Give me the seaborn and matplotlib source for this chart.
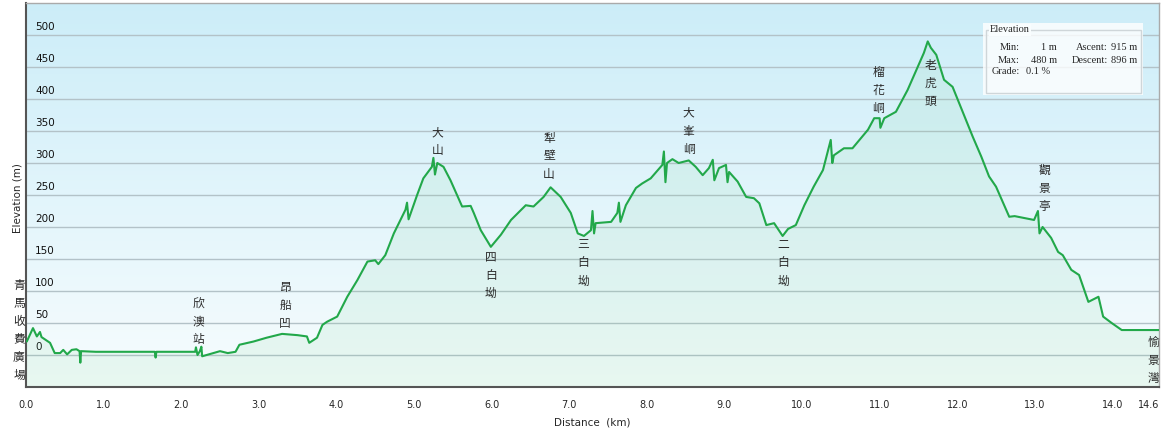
import numpy as np
import pandas as pd
import matplotlib
matplotlib.use("Agg")
import matplotlib.pyplot as plt
import matplotlib.patches as mpatches
import seaborn as sns

# elevation profile (km, m)
dist_km = [0.00, 0.01, 0.09, 0.14, 0.18, 0.20, 0.31, 0.37, 0.44, 0.48, 0.53, 0.59, 0.65, 0.69, 0.70, 0.71,
           0.90, 1.20, 1.50, 1.66, 1.67, 1.68, 2.00, 2.18, 2.19, 2.21, 2.24, 2.26, 2.27, 2.50, 2.60, 2.70,
           2.75, 2.93, 3.10, 3.30, 3.50, 3.62, 3.65, 3.75, 3.82, 3.88, 4.01, 4.14, 4.27, 4.40, 4.50, 4.54,
           4.63, 4.74, 4.89, 4.91, 4.93, 5.04, 5.12, 5.23, 5.25, 5.27, 5.30, 5.38, 5.47, 5.62, 5.73, 5.77,
           5.86, 5.99, 6.12, 6.25, 6.44, 6.54, 6.67, 6.76, 6.89, 7.02, 7.11, 7.19, 7.28, 7.30, 7.32, 7.34,
           7.54, 7.62, 7.64, 7.66, 7.73, 7.86, 7.94, 8.05, 8.20, 8.22, 8.24, 8.26, 8.33, 8.41, 8.54, 8.63,
           8.72, 8.80, 8.85, 8.87, 8.93, 9.02, 9.04, 9.06, 9.17, 9.28, 9.38, 9.45, 9.54, 9.64, 9.75, 9.82,
           9.92, 10.03, 10.15, 10.27, 10.37, 10.39, 10.41, 10.54, 10.65, 10.85, 10.93, 11.00, 11.01, 11.06,
           11.21, 11.36, 11.49, 11.57, 11.62, 11.66, 11.73, 11.83, 11.94, 12.05, 12.20, 12.31, 12.41, 12.50,
           12.67, 12.74, 12.99, 13.04, 13.06, 13.10, 13.21, 13.30, 13.36, 13.47, 13.57, 13.69, 13.82, 13.88,
           13.99, 14.12, 14.37, 14.60]
elev_m = [22, 21, 42, 29, 36, 28, 19, 3, 3, 8, 1, 8, 9, 6, -12, 6,
          5, 5, 5, 5, -4, 5, 5, 5, 12, 0, 6, 13, -2, 6, 3, 5,
          16, 21, 27, 33, 31, 29, 19, 27, 47, 52, 60, 91, 117, 146, 148, 142,
          156, 190, 227, 238, 212, 250, 276, 294, 308, 282, 300, 294, 273, 232, 233, 222,
          195, 169, 188, 211, 234, 232, 247, 262, 247, 222, 190, 186, 195, 225, 190, 206,
          208, 222, 238, 208, 234, 261, 268, 276, 297, 318, 270, 300, 306, 300, 304, 294,
          281, 292, 305, 273, 292, 297, 270, 286, 271, 247, 245, 237, 203, 206, 186, 197,
          203, 234, 263, 289, 336, 300, 312, 323, 323, 352, 370, 370, 355, 370,
          380, 414, 450, 472, 490, 480, 469, 430, 419, 386, 341, 310, 279, 263,
          216, 217, 211, 225, 190, 200, 183, 161, 156, 133, 125, 83, 91, 60,
          50, 39, 39, 39]

# place names (stacked vertically), km and elevation of the first character
place_names = ["青馬收費廣場", "欣澳站", "昂船凹", "大山", "四白坳", "犁壁山", "三白坳",
               "大峯峒", "二白坳", "榴花峒", "老虎頭", "觀景亭", "愉景灣"]
place_km = [-0.09, 2.22, 3.34, 5.30, 5.99, 6.74, 7.18, 8.54, 9.76, 10.98, 11.65, 13.12, 14.53]
place_elev = [109, 80, 105, 347, 152, 339, 172, 378, 172, 442, 453, 289, 19]

y_ticks = [0, 50, 100, 150, 200, 250, 300, 350, 400, 450, 500]
x_ticks = [0, 1, 2, 3, 4, 5, 6, 7, 8, 9, 10, 11, 12, 13, 14, 14.6]
x_tick_labels = ["0.0", "1.0", "2.0", "3.0", "4.0", "5.0", "6.0", "7.0", "8.0", "9.0",
                 "10.0", "11.0", "12.0", "13.0", "14.0", "14.6"]

stats_min, stats_max = 1, 480
stats_ascent, stats_descent = 915, 896
stats_grade = 0.1

df = pd.DataFrame({"Distance": dist_km, "Elevation": elev_m})

sns.set_style("white")
W, H = 1165, 434
fig = plt.figure(figsize=(W / 100, H / 100), dpi=100)
ax = fig.add_axes([26 / W, 1 - 387 / H, (1159 - 26) / W, (387 - 3) / H])

ymin, ymax = -50, 550
ax.set_xlim(0, 14.6)
ax.set_ylim(ymin, ymax)

# background gradient: light blue at top -> almost white at bottom
top = np.array([0.80, 0.93, 0.975])
bot = np.array([0.97, 0.99, 0.995])
t = np.linspace(0, 1, 256)[:, None]
grad = (top * (1 - t) + bot * t)[:, None, :]
ax.imshow(grad, extent=[0, 14.6, ymin, ymax], aspect="auto", zorder=0, origin="upper")

for v in y_ticks:
    ax.axhline(v, color="#b3c2c8", lw=1, zorder=1)
    ax.text(0.12, v + 4, str(v), fontsize=7.5, color="#111", ha="left", va="bottom", zorder=2,
            family="DejaVu Sans")

ax.fill_between(df["Distance"], df["Elevation"], ymin, color="#74d08f", alpha=0.11, lw=0, zorder=2)
sns.lineplot(data=df, x="Distance", y="Elevation", color="#22a84a", lw=1.5, ax=ax, zorder=3,
             estimator=None, sort=False)

ax.set_yticks([])
ax.set_xticks(x_ticks)
ax.set_xticklabels(x_tick_labels, fontsize=7, family="DejaVu Sans")
ax.get_xticklabels()[-1].set_ha("right")
ax.get_xticklabels()[-1].set_x(14.6)
ax.tick_params(axis="x", direction="out", length=5, width=1, color="#444", pad=4)
ax.set_xlabel("Distance  (km)", fontsize=7.5, labelpad=6)
ax.set_ylabel("")
fig.text(17 / W, 1 - 198 / H, "Elevation (m)", rotation=90, ha="center", va="center", fontsize=7.5)

for side in ["left", "bottom"]:
    ax.spines[side].set_color("#555")
    ax.spines[side].set_linewidth(1.5)
for side in ["top", "right"]:
    ax.spines[side].set_color("#aaa")
    ax.spines[side].set_linewidth(1)

# stacked place names
step = 28.1
for name, km, e in zip(place_names, place_km, place_elev):
    for i, ch in enumerate(name):
        ax.text(km, e - i * step, ch, ha="center", va="center", fontsize=8.5, color="#2a2a2a",
                family=["Noto Sans CJK TC", "DejaVu Sans"], clip_on=False, zorder=4)

# stats box
def fx(x):
    return x / W

def fy(y):
    return 1 - y / H

fig.patches.append(mpatches.Rectangle((fx(983), fy(95)), fx(1143) - fx(983), fy(23) - fy(95),
                                      transform=fig.transFigure, facecolor="white", alpha=0.8,
                                      edgecolor="none", zorder=5))
fig.patches.append(mpatches.Rectangle((fx(986), fy(93)), fx(1141) - fx(986), fy(30) - fy(93),
                                      transform=fig.transFigure, facecolor="none",
                                      edgecolor="#cfd6d9", lw=1, zorder=6))
serif = "Liberation Serif"
fs = 7.5
fig.text(fx(990), fy(30), "Elevation", fontsize=fs, family=serif, ha="left", va="center", zorder=7,
         bbox=dict(facecolor="#f9fdfe", edgecolor="none", pad=1))
fig.text(fx(1020), fy(47), "Min:", fontsize=fs, family=serif, ha="right", va="center", zorder=7)
fig.text(fx(1057), fy(47), f"{stats_min} m", fontsize=fs, family=serif, ha="right", va="center", zorder=7)
fig.text(fx(1108), fy(47), "Ascent:", fontsize=fs, family=serif, ha="right", va="center", zorder=7)
fig.text(fx(1137), fy(47), f"{stats_ascent} m", fontsize=fs, family=serif, ha="right", va="center", zorder=7)
fig.text(fx(1020), fy(60), "Max:", fontsize=fs, family=serif, ha="right", va="center", zorder=7)
fig.text(fx(1057), fy(60), f"{stats_max} m", fontsize=fs, family=serif, ha="right", va="center", zorder=7)
fig.text(fx(1108), fy(60), "Descent:", fontsize=fs, family=serif, ha="right", va="center", zorder=7)
fig.text(fx(1137), fy(60), f"{stats_descent} m", fontsize=fs, family=serif, ha="right", va="center", zorder=7)
fig.text(fx(1020), fy(71), "Grade:", fontsize=fs, family=serif, ha="right", va="center", zorder=7)
fig.text(fx(1026), fy(71), f"{stats_grade} %", fontsize=fs, family=serif, ha="left", va="center", zorder=7)

fig.savefig("out.png", dpi=100)
